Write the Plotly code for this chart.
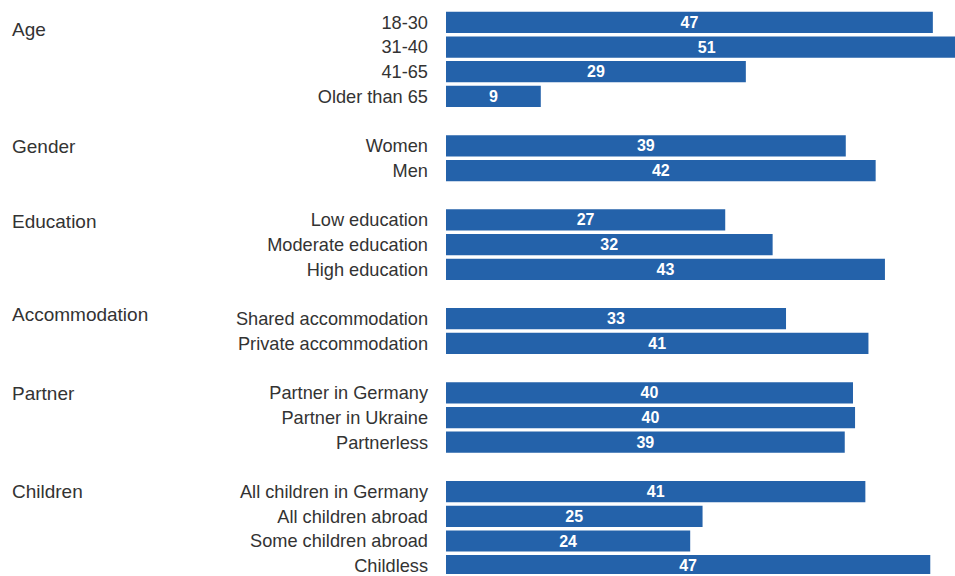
import plotly.graph_objects as go

# ---- data ----
groups = ["Age", "Gender", "Education", "Accommodation", "Partner", "Children"]
age_labels = ["18-30", "31-40", "41-65", "Older than 65"]
age_values = [47.25, 50.6, 29.1, 9.2]
gender_labels = ["Women", "Men"]
gender_values = [38.8, 41.7]
education_labels = ["Low education", "Moderate education", "High education"]
education_values = [27.1, 31.7, 42.6]
accommodation_labels = ["Shared accommodation", "Private accommodation"]
accommodation_values = [33.0, 41.0]
partner_labels = ["Partner in Germany", "Partner in Ukraine", "Partnerless"]
partner_values = [39.5, 39.7, 38.7]
children_labels = ["All children in Germany", "All children abroad",
                   "Some children abroad", "Childless"]
children_values = [40.7, 24.9, 23.7, 47.0]

group_labels = [age_labels, gender_labels, education_labels,
                accommodation_labels, partner_labels, children_labels]
group_values = [age_values, gender_values, education_values,
                accommodation_values, partner_values, children_values]

# ---- build category order with blank spacer rows ----
cats, vals, first_cat = [], [], []
for gi, (labs, vs) in enumerate(zip(group_labels, group_values)):
    if gi > 0:
        spacer = " " * gi
        cats.append(spacer)
        vals.append(None)
    first_cat.append(labs[0])
    cats.extend(labs)
    vals.extend(vs)

BAR = "#2462AA"
TXT = "#333333"
FONT = "Liberation Sans, Arial, Helvetica, sans-serif"

fig = go.Figure(go.Bar(
    x=vals, y=cats, orientation="h",
    marker=dict(color=BAR, line=dict(width=0)),
    texttemplate="%{x:.0f}", textposition="inside", insidetextanchor="middle",
    textangle=0,
    textfont=dict(color="white", size=16, family=FONT, weight="bold"),
    cliponaxis=True, hoverinfo="skip",
))

W, H = 955, 576
L, R, T, B = 446, 0, 9.9, 0
xmax = 49.4
n = len(cats)

fig.update_layout(
    width=W, height=H,
    margin=dict(l=L, r=R, t=T, b=B, pad=0),
    plot_bgcolor="white", paper_bgcolor="white",
    bargap=0.14, showlegend=False,
    font=dict(family=FONT, color=TXT, size=18),
    uniformtext=dict(mode="show", minsize=15),
)
fig.update_xaxes(range=[0, xmax], visible=False, fixedrange=True)
fig.update_yaxes(
    type="category", categoryorder="array", categoryarray=cats,
    range=[n - 0.664, -0.5], showgrid=False, zeroline=False,
    showline=False, ticks="", ticklabelstandoff=17,
    tickfont=dict(size=18.2, color=TXT, family=FONT), fixedrange=True,
)

yshifts = [-7, -1, -1.5, 4.5, -1, 0]
for g, fc, ys in zip(groups, first_cat, yshifts):
    fig.add_annotation(
        text=g, xref="paper", yref="y", x=(10 - L) / (W - L - R), y=fc,
        xanchor="left", yanchor="middle", showarrow=False, yshift=ys,
        font=dict(size=19, color=TXT, family=FONT),
    )

fig.write_html(
    "out.html",
    config={"displayModeBar": False, "staticPlot": True},
    post_script="document.body.style.margin='0';document.body.style.overflow='hidden';",
)
